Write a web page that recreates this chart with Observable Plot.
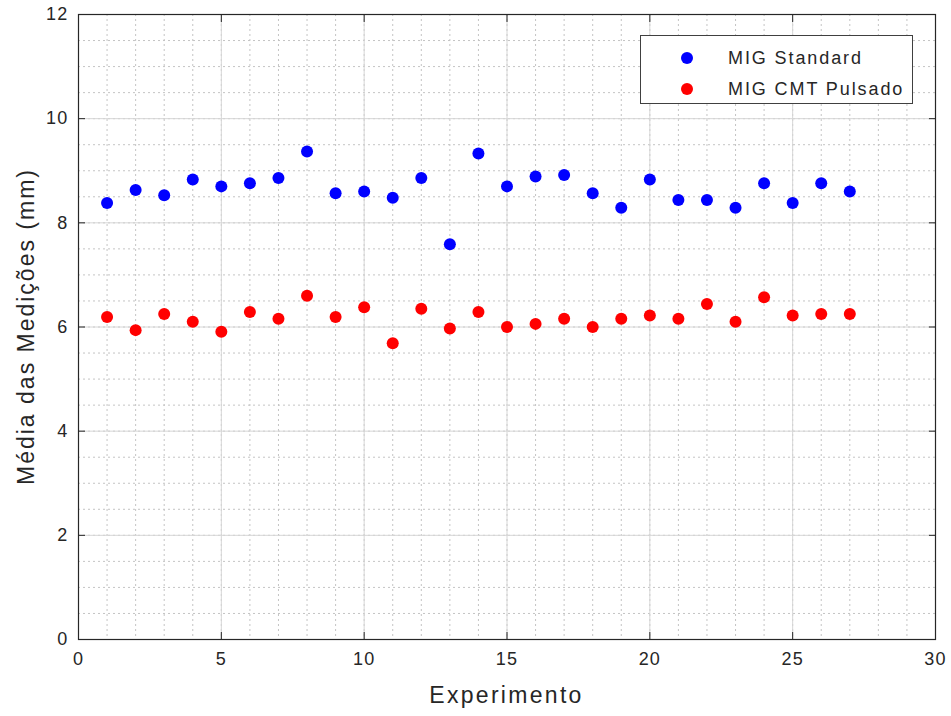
<!DOCTYPE html>
<html>
<head>
<meta charset="utf-8">
<script src="https://cdn.jsdelivr.net/npm/d3@7"></script>
<script src="https://cdn.jsdelivr.net/npm/@observablehq/plot@0.6"></script>
<style>
  html, body { margin: 0; padding: 0; background: #fff; }
  #wrap { position: relative; width: 951px; height: 716px; font-family: "Liberation Sans", Arial, sans-serif; }
  #legend { position: absolute; left: 640px; top: 35px; width: 273px; height: 69px; border: 1.5px solid #404040; background: #fff; box-sizing: border-box; font-size: 18px; letter-spacing: 1.9px; color: #262626; }
  .sw { position: absolute; left: 40px; width: 12px; height: 12px; border-radius: 50%; }
  .lab { position: absolute; left: 87px; white-space: nowrap; line-height: 20px; }
</style>
</head>
<body>
<div id="wrap"></div>
<script>
const experiments = [1,2,3,4,5,6,7,8,9,10,11,12,13,14,15,16,17,18,19,20,21,22,23,24,25,26,27];
const migStandard = [8.38,8.63,8.53,8.83,8.70,8.76,8.86,9.37,8.57,8.60,8.48,8.86,7.59,9.33,8.70,8.89,8.92,8.57,8.29,8.83,8.44,8.44,8.29,8.76,8.38,8.76,8.60];
const migCMT = [6.19,5.94,6.25,6.10,5.91,6.29,6.16,6.60,6.19,6.38,5.69,6.35,5.97,6.29,6.00,6.06,6.16,6.00,6.16,6.22,6.16,6.44,6.10,6.57,6.22,6.25,6.25];
const seriesNames = ["MIG Standard", "MIG CMT Pulsado"];
const seriesColors = ["#0000ff", "#ff0000"];
const xTicks = [0,5,10,15,20,25,30];
const yTicks = [0,2,4,6,8,10,12];
const xMinor = d3.range(0, 31, 1);
const yMinor = d3.range(0, 12.01, 0.5);

const data = [
  ...experiments.map((e, i) => ({x: e, y: migStandard[i], s: seriesNames[0]})),
  ...experiments.map((e, i) => ({x: e, y: migCMT[i], s: seriesNames[1]}))
];

const noText = () => "";
const axisInk = "#262626";

const plot = Plot.plot({
  width: 951,
  height: 716,
  marginLeft: 78,
  marginRight: 16,
  marginTop: 14,
  marginBottom: 77,
  style: {fontFamily: "Liberation Sans, Arial, sans-serif", fontSize: "18px", color: axisInk, background: "#fff", letterSpacing: "1.2px"},
  x: {domain: [0, 30]},
  y: {domain: [0, 12]},
  color: {domain: seriesNames, range: seriesColors},
  marks: [
    Plot.gridX(xMinor, {stroke: "#c4c4c4", strokeOpacity: 1, strokeDasharray: "2,3", strokeWidth: 1}),
    Plot.gridY(yMinor, {stroke: "#c4c4c4", strokeOpacity: 1, strokeDasharray: "2,3", strokeWidth: 1}),
    Plot.gridX(xTicks, {stroke: "#d6d6d6", strokeOpacity: 1, strokeWidth: 1}),
    Plot.gridY(yTicks, {stroke: "#d6d6d6", strokeOpacity: 1, strokeWidth: 1}),
    // inward tick marks on all four sides
    Plot.axisX(xTicks, {anchor: "bottom", tickSize: 7, dy: -7, tickFormat: noText, label: null, stroke: axisInk}),
    Plot.axisX(xTicks, {anchor: "top", tickSize: 7, dy: 7, tickFormat: noText, label: null, stroke: axisInk}),
    Plot.axisY(yTicks, {anchor: "left", tickSize: 7, dx: 7, tickFormat: noText, label: null, stroke: axisInk}),
    Plot.axisY(yTicks, {anchor: "right", tickSize: 7, dx: -7, tickFormat: noText, label: null, stroke: axisInk}),
    // tick labels
    Plot.axisX(xTicks, {anchor: "bottom", tickSize: 0, tickPadding: 13, fontSize: 18, tickFormat: d3.format("d"), label: null, fill: axisInk}),
    Plot.axisY(yTicks, {anchor: "left", tickSize: 0, tickPadding: 10, fontSize: 18, tickFormat: d3.format("d"), label: null, fill: axisInk}),
    Plot.frame({stroke: axisInk, strokeWidth: 1.2}),
    Plot.dot(data, {x: "x", y: "y", fill: "s", r: 6, stroke: null})
  ]
});

const wrap = document.getElementById("wrap");
wrap.appendChild(plot);

// axis titles
const svg = d3.select(plot);
svg.append("text")
  .attr("x", 78 + (951 - 78 - 16) / 2).attr("y", 703)
  .attr("text-anchor", "middle")
  .attr("font-size", 23).attr("fill", axisInk)
  .attr("letter-spacing", "2.3px")
  .text("Experimento");
svg.append("text")
  .attr("transform", `translate(34, ${14 + (716 - 14 - 77) / 2}) rotate(-90)`)
  .attr("text-anchor", "middle")
  .attr("font-size", 23).attr("fill", axisInk)
  .attr("letter-spacing", "2px")
  .text("Média das Medições (mm)");

// legend
const legend = document.createElement("div");
legend.id = "legend";
seriesNames.forEach((name, i) => {
  const sw = document.createElement("span");
  sw.className = "sw";
  sw.style.background = seriesColors[i];
  sw.style.top = (16 + i * 31) + "px";
  const lab = document.createElement("span");
  lab.className = "lab";
  lab.style.top = (12 + i * 31) + "px";
  lab.textContent = name;
  legend.appendChild(sw);
  legend.appendChild(lab);
});
wrap.appendChild(legend);
</script>
</body>
</html>
